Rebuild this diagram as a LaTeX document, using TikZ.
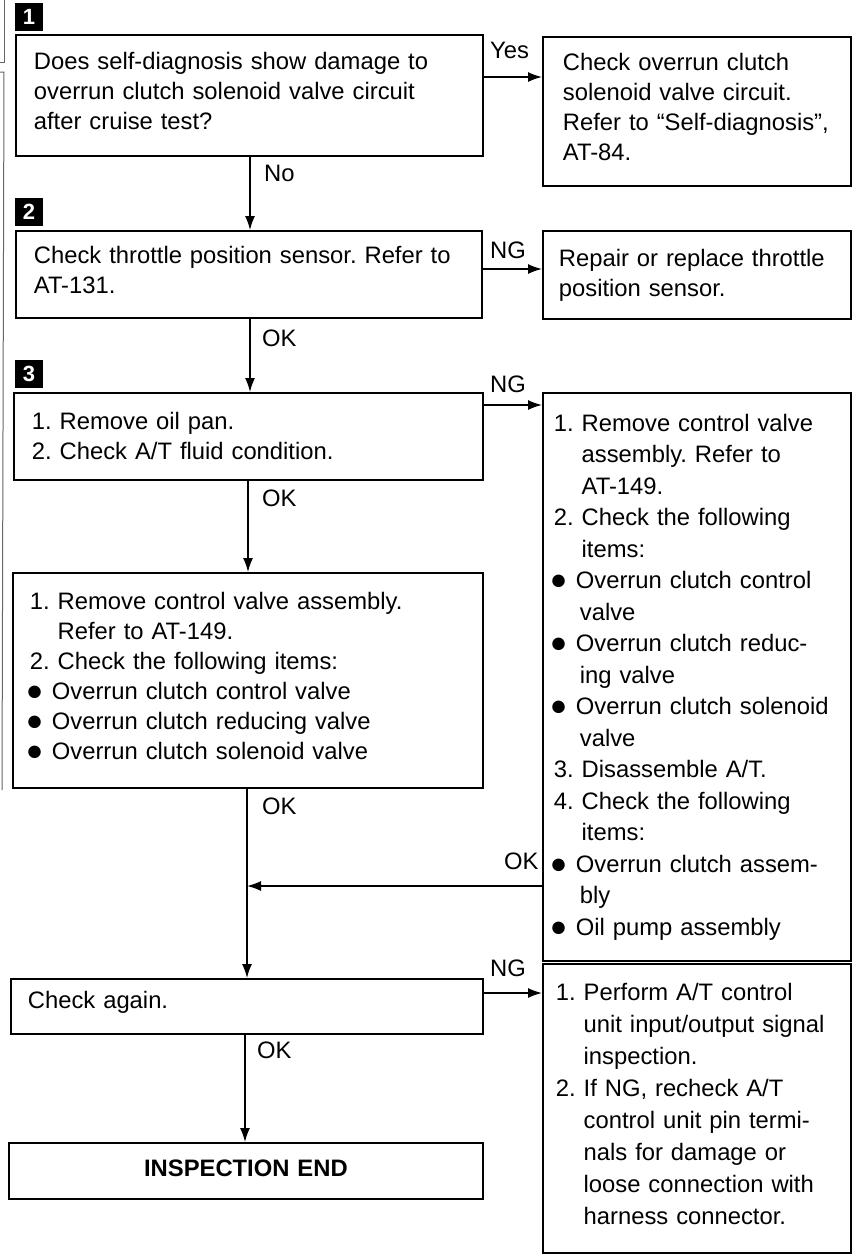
\documentclass[tikz,border=0pt]{standalone}
\usepackage{fontspec}
\setmainfont{Liberation Sans}
\usetikzlibrary{arrows.meta}
\frenchspacing
\newcommand{\ind}{\phantom{1. }}
\newcommand{\bl}{\makebox[22pt][l]{\hspace*{-4pt}\raisebox{-1.2pt}{\fontsize{29}{30}\selectfont ●}}}
\newcommand{\bul}{\hspace*{26pt}}
\begin{document}
\begin{tikzpicture}[x=1pt,y=-1pt,
  box/.style={draw, line width=1.8pt, anchor=north west, align=left, inner ysep=0pt,
    font=\frenchspacing\fontsize{23.8}{30}\selectfont},
  flow/.style={line width=1.5pt, -{Latex[length=14pt,width=10pt]}},
  lbl/.style={font=\fontsize{23.8}{30}\selectfont, inner sep=0pt, anchor=base west},
  marktext/.style={text=white, inner sep=0pt, font=\bfseries\fontsize{22}{22}\selectfont},
  edgefrag/.style={line width=1pt, draw=black!60}
]
\useasboundingbox (0,0) rectangle (855,1254);

% edges of neighbouring page content
\draw[edgefrag] (0,62) -- (4,62) -- (4,0);
\draw[edgefrag] (0,72) -- (4,72) -- (2,790);

% step markers: black squares with white numbers
\fill (15,3) rectangle (43,31);
\node[marktext] (m1) at (29,17) {1};
\fill (15,198) rectangle (43,226);
\node[marktext] (m2) at (29,212) {2};
\fill (15,360) rectangle (43,388);
\node[marktext] (m3) at (29,374) {3};

% step 1
\node[box, inner xsep=18pt, text width=431pt, minimum width=467pt, minimum height=121pt, text depth=70pt] (q1) at (15,34)
  {Does self-diagnosis show damage to\\overrun clutch solenoid valve circuit\\after cruise test?};
\node[box, inner xsep=20pt, text width=268pt, minimum width=308pt, minimum height=149pt, text depth=100pt] (yes) at (542,36)
  {Check overrun clutch\\solenoid valve circuit.\\Refer to “Self-diagnosis”,\\AT-84.};

% step 2
\node[box, inner xsep=18pt, text width=430pt, minimum width=466pt, minimum height=87pt, text depth=40pt] (q2) at (15,230)
  {Check throttle position sensor. Refer to\\AT-131.};
\node[box, inner xsep=16pt, text width=276pt, minimum width=308pt, minimum height=88pt] (ng2) at (542,230)
  {Repair or replace throttle\\position sensor.};

% step 3
\node[box, inner xsep=18pt, text width=433pt, minimum width=469pt, minimum height=87pt] (q3) at (13,392)
  {1. Remove oil pan.\\2. Check A/T fluid condition.};
\node[box, inner xsep=11pt, text width=286pt, minimum width=308pt, minimum height=568pt,
  font=\frenchspacing\fontsize{23.8}{31.5}\selectfont] (ng3) at (542,392)
  {1. Remove control valve\\\ind assembly. Refer to\\\ind AT-149.\\
   2. Check the following\\\ind items:\\
   \bl Overrun clutch control\\\bul valve\\
   \bl Overrun clutch reduc-\\\bul ing valve\\
   \bl Overrun clutch solenoid\\\bul valve\\
   3. Disassemble A/T.\\
   4. Check the following\\\ind items:\\
   \bl Overrun clutch assem-\\\bul bly\\
   \bl Oil pump assembly};

\node[box, inner xsep=17pt, text width=436pt, minimum width=470pt, minimum height=215pt, text depth=160pt] (q4) at (12,572)
  {1. Remove control valve assembly.\\\ind Refer to AT-149.\\
   2. Check the following items:\\
   \bl Overrun clutch control valve\\
   \bl Overrun clutch reducing valve\\
   \bl Overrun clutch solenoid valve};

% final check
\node[box, inner xsep=17pt, text width=438pt, minimum width=472pt, minimum height=55pt, text depth=14pt] (again) at (10,978)
  {Check again.};
\node[box, inner xsep=13pt, text width=282pt, minimum width=308pt, minimum height=289pt, text depth=234pt,
  font=\frenchspacing\fontsize{23.8}{32}\selectfont] (ng4) at (542,963)
  {1. Perform A/T control\\\ind unit input/output signal\\\ind inspection.\\
   2. If NG, recheck A/T\\\ind control unit pin termi-\\\ind nals for damage or\\
   \ind loose connection with\\\ind harness connector.};
\node[box, align=center, text width=440pt, minimum width=474pt, minimum height=56pt, text depth=6pt,
  font=\bfseries\fontsize{23.8}{30}\selectfont] (end) at (8,1142) {INSPECTION END};

% connectors
\draw[flow] (q1.north east) ++(0,43) coordinate (c1) -- (c1 -| yes.west);
\node[lbl] (lyes) at (490,58) {Yes};

\draw[flow] (q1.south west) ++(235,0) coordinate (c2) -- (c2 |- q2.north);
\node[lbl] (lno) at (264,181) {No};

\draw[flow] (q2.north east) ++(0,39) coordinate (c3) -- (c3 -| ng2.west);
\node[lbl] (lng2) at (490,258) {NG};

\draw[flow] (q2.south west) ++(235,0) coordinate (c4) -- (c4 |- q3.north);
\node[lbl] (lok2) at (262,346) {OK};

\draw[flow] (q3.north east) ++(0,13) coordinate (c5) -- (c5 -| ng3.west);
\node[lbl] (lng3) at (490,392) {NG};

\draw[flow] (q3.south west) ++(235,0) coordinate (c6) -- (c6 |- q4.north);
\node[lbl] (lok3) at (262,506) {OK};

\draw[flow] (q4.south west) ++(235,0) coordinate (c7) -- (c7 |- again.north);
\node[lbl] (lok4) at (262,814) {OK};

\draw[flow] (ng3.north west) ++(0,494) coordinate (c8) -- (c8 -| c7);
\node[lbl] (lok5) at (504,869) {OK};

\draw[flow] (again.north east) ++(0,15) coordinate (c9) -- (c9 -| ng4.west);
\node[lbl] (lng4) at (490,976) {NG};

\draw[flow] (again.south west) ++(235,0) coordinate (c10) -- (c10 |- end.north);
\node[lbl] (lok6) at (257,1058) {OK};
\end{tikzpicture}
\end{document}
